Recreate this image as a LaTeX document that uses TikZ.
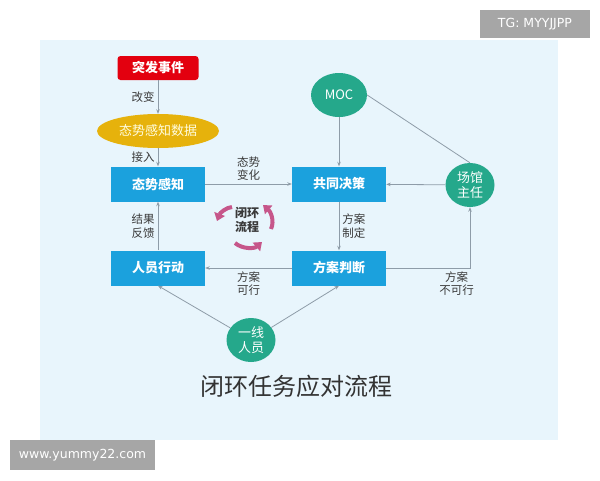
\documentclass[tikz,border=0pt]{standalone}
\usepackage{fontspec}
\setmainfont{Noto Sans CJK SC}
\newfontfamily\marksans{DejaVu Sans}
\usetikzlibrary{shapes.geometric,arrows.meta}
\definecolor{panelbg}{HTML}{E8F5FC}
\definecolor{boxblue}{HTML}{1BA1DD}
\definecolor{roleteal}{HTML}{25A88B}
\definecolor{alarmred}{HTML}{E3000F}
\definecolor{datumgold}{HTML}{E6B20C}
\definecolor{linegray}{HTML}{8E9CA8}
\definecolor{lbltext}{HTML}{3A3A3A}
\definecolor{cyclepink}{HTML}{C6568A}
\definecolor{markgray}{HTML}{A6A6A6}
\begin{document}
\begin{tikzpicture}[x=1pt, y=-1pt,
  box/.style={fill=boxblue, text=white, minimum width=94pt, minimum height=35pt, inner sep=0pt, font=\fontsize{13}{13}\selectfont\bfseries},
  role/.style={ellipse, fill=roleteal, text=white, minimum width=49pt, minimum height=44pt, inner sep=0pt, align=center, font=\fontsize{13}{15}\selectfont},
  alarm/.style={fill=alarmred, text=white, rounded corners=3pt, minimum width=81pt, minimum height=24pt, inner sep=0pt, font=\fontsize{13}{13}\selectfont\bfseries},
  datum/.style={ellipse, fill=datumgold, text=white!88!yellow, minimum width=122pt, minimum height=34pt, inner sep=0pt, font=\fontsize{13}{13}\selectfont},
  lbl/.style={text=lbltext, align=center, inner sep=3pt, font=\fontsize{11.5}{13.5}\selectfont},
  link/.style={draw=linegray, line width=0.8pt, -{Stealth[length=4.5pt,width=3.5pt]}},
  plain/.style={draw=linegray, line width=0.8pt},
  cyclearc/.style={draw=cyclepink, line width=4pt, -{Triangle[length=7.5pt,width=11pt]}},
  stamp/.style={fill=markgray, text=white, inner sep=0pt, font=\marksans\fontsize{12.5}{12.5}\selectfont}]

\useasboundingbox (0,0) rectangle (600,480);
\fill [white] (0,0) rectangle (600,480);
\fill [panelbg] (40,40) rectangle (558,440);

\node [alarm] (tf) at (158,68) {突发事件};
\node [datum] (sj) at (158,131) {态势感知数据};
\node [box] (gz) at (158,184) {态势感知};
\node [box] (jc) at (339,184) {共同决策};
\node [box] (pd) at (339,268) {方案判断};
\node [box] (xd) at (158,268) {人员行动};
\node [role, minimum width=56pt, minimum height=44pt] (moc) at (339,95) {MOC};
\node [role] (zr) at (470,185) {场馆\\主任};
\node [role] (yx) at (251,340) {一线\\人员};

\draw [link] (tf) -- node [lbl, left] {改变} (sj);
\draw [link] (sj) -- node [lbl, left] {接入} (gz);
\draw [link] (gz) -- node [lbl, above] {态势\\变化} (jc);
\draw [link] (moc) -- (jc);
\draw [plain] (moc.east) -- (zr.north);
\draw [link] (zr) -- (jc);
\draw [link] (jc) -- node [lbl, right] {方案\\制定} (pd);
\draw [link] (pd) -- node [lbl, below] {方案\\可行} (xd);
\draw [link] (pd.east) -| node [lbl, below, pos=0.42] {方案\\不可行} (zr.south);
\draw [link] (xd) -- node [lbl, left] {结果\\反馈} (gz);
\draw [link] (yx) -- (xd.south);
\draw [link] (yx) -- (pd.south);

\draw [cyclearc] (232,207) .. controls (226,207.5) and (220,213) .. (217,221);
\draw [cyclearc] (235,243) .. controls (242,249) and (254,249) .. (262,242);
\draw [cyclearc] (271,229) .. controls (275,220) and (270,211) .. (263,205);
\node [text=lbltext, align=center, font=\fontsize{12}{14}\selectfont\bfseries] (bh) at (247,220) {闭环\\流程};

\node [text=black!80, font=\fontsize{24}{24}\selectfont] (title) at (296,386) {闭环任务应对流程};

\node [stamp, minimum width=145pt, minimum height=30pt] (wm1) at (82.5,455) {www.yummy22.com};
\node [stamp, minimum width=110pt, minimum height=28pt] (wm2) at (535,24) {TG: MYYJJPP};
\end{tikzpicture}
\end{document}
